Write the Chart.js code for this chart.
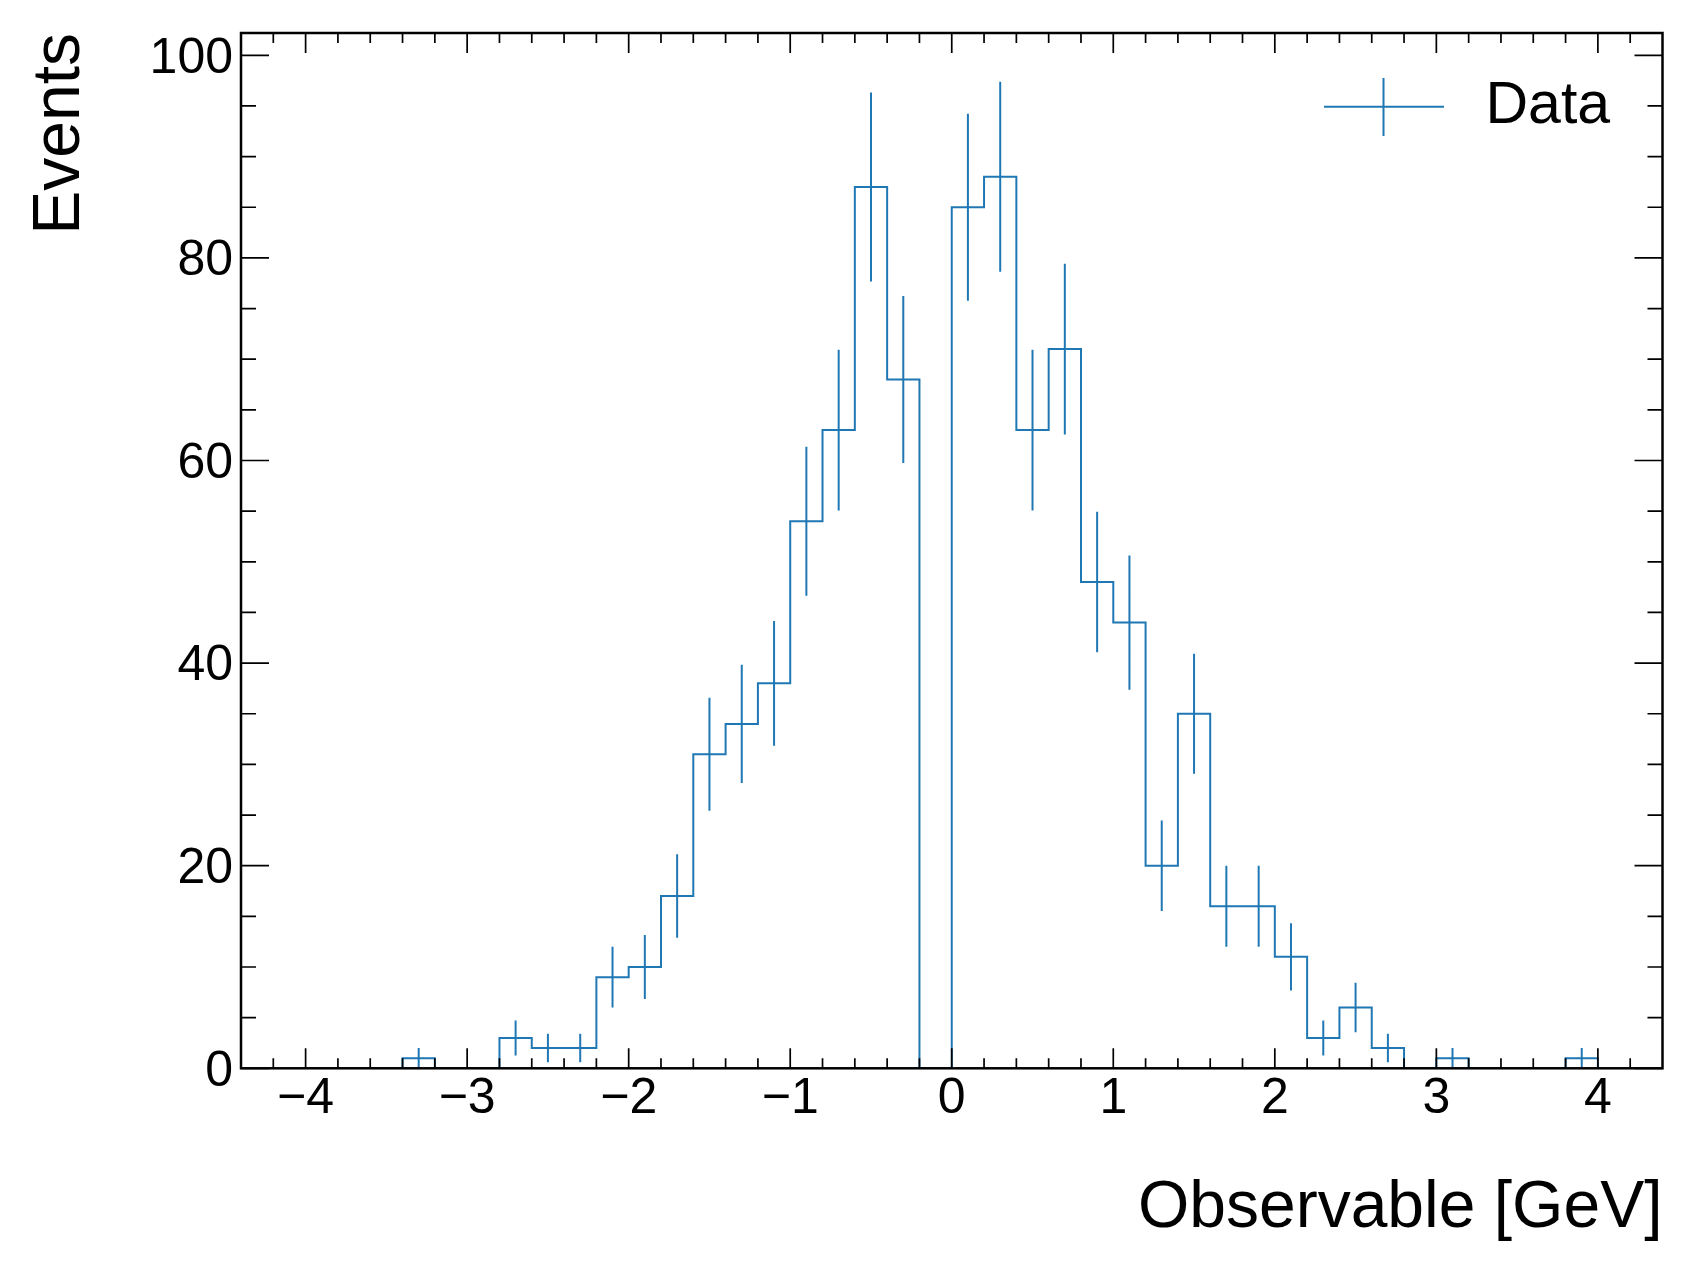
<!DOCTYPE html>
<html>
<head>
<meta charset="utf-8">
<script src="https://cdn.jsdelivr.net/npm/chart.js@4.4.1/dist/chart.umd.min.js"></script>
<style>
html,body{margin:0;padding:0;background:#fff;}
#wrap{width:1692px;height:1275px;position:relative;}
canvas{display:block;}
</style>
</head>
<body>
<div id="wrap"><canvas id="c" width="1692" height="1275"></canvas></div>
<script>
// ---- data ----
const binEdges = [-4.0,-3.8,-3.6,-3.4,-3.2,-3.0,-2.8,-2.6,-2.4,-2.2,-2.0,-1.8,-1.6,-1.4,-1.2,-1.0,-0.8,-0.6,-0.4,-0.2,0.0,0.2,0.4,0.6,0.8,1.0,1.2,1.4,1.6,1.8,2.0,2.2,2.4,2.6,2.8,3.0,3.2,3.4,3.6,3.8,4.0];
const counts = [0,0,0,1,0,0,3,2,2,9,10,17,31,34,38,54,63,87,68,0,85,88,63,71,48,44,20,35,16,16,11,3,6,2,0,1,0,0,0,1];
const errors = [0,0,0,1,0,0,1.73,1.41,1.41,3,3.16,4.12,5.57,5.83,6.16,7.35,7.94,9.33,8.25,0,9.22,9.38,7.94,8.43,6.93,6.63,4.47,5.92,4,4,3.32,1.73,2.45,1.41,0,1,0,0,0,1];
const xTickValues = [-4,-3,-2,-1,0,1,2,3,4];
const yTickValues = [0,20,40,60,80,100];
const xRange = [-4.4, 4.4];
const yRange = [0, 102.2];
const seriesLabel = 'Data';
const xTitle = 'Observable [GeV]';
const yTitle = 'Events';

// ---- style ----
const BLUE = '#1f77b4';
const FONT = "'Liberation Sans', Arial, Helvetica, sans-serif";

const histPoints = binEdges.map((e, i) => ({x: e, y: i < counts.length ? counts[i] : 0}));
const errPoints = [];
counts.forEach((c, i) => {
  if (errors[i] > 0) {
    const xc = (binEdges[i] + binEdges[i + 1]) / 2;
    errPoints.push({x: xc, y: c - errors[i]}, {x: xc, y: c + errors[i]}, {x: xc, y: null});
  }
});

// legend marker (errorbar handle)
const marker = document.createElement('canvas');
marker.width = 120; marker.height = 58;
(function(){
  const m = marker.getContext('2d');
  m.strokeStyle = BLUE; m.lineWidth = 2;
  m.beginPath();
  m.moveTo(0, 29); m.lineTo(120, 29);
  m.moveTo(60, 0); m.lineTo(60, 58);
  m.stroke();
})();

const legendPlace = {
  id: 'legendPlace',
  afterLayout(chart) {
    const lg = chart.legend;
    if (!lg) return;
    const w = lg.width, h = lg.height;
    lg.left = 1311; lg.right = lg.left + w;
    lg.top = 77.2; lg.bottom = lg.top + h;
  }
};

const frame = {
  id: 'frame',
  afterDatasetsDraw(chart) {
    const {ctx, chartArea: a, scales: {x, y}} = chart;
    ctx.save();
    ctx.strokeStyle = '#000';
    ctx.lineWidth = 1.7;
    ctx.beginPath();
    for (let k = -21; k <= 21; k++) {
      const v = k / 5;
      const px = x.getPixelForValue(v);
      const major = (k % 5 === 0);
      const L = major ? 20 : 10;
      ctx.moveTo(px, a.bottom); ctx.lineTo(px, a.bottom - L);
      ctx.moveTo(px, a.top); ctx.lineTo(px, a.top + L);
    }
    for (let v = 0; v <= 100; v += 5) {
      const py = y.getPixelForValue(v);
      const major = (v % 20 === 0);
      const L = major ? 28 : 15;
      ctx.moveTo(a.left, py); ctx.lineTo(a.left + L, py);
      ctx.moveTo(a.right, py); ctx.lineTo(a.right - L, py);
    }
    ctx.stroke();
    ctx.lineWidth = 2.5;
    ctx.strokeRect(a.left, a.top, a.right - a.left, a.bottom - a.top);
    ctx.restore();
  }
};

new Chart(document.getElementById('c'), {
  type: 'line',
  data: {
    datasets: [
      {label: seriesLabel, data: histPoints, stepped: true, borderColor: BLUE, borderWidth: 2, pointRadius: 0, fill: false, tension: 0},
      {label: seriesLabel + ' errors', data: errPoints, borderColor: BLUE, borderWidth: 2, pointRadius: 0, fill: false, spanGaps: false, tension: 0}
    ]
  },
  options: {
    responsive: false,
    animation: false,
    devicePixelRatio: 1,
    events: [],
    layout: {padding: {left: 0, top: 29, right: 29.5, bottom: 0}},
    plugins: {
      tooltip: {enabled: false},
      legend: {
        display: true,
        position: 'chartArea',
        align: 'start',
        labels: {
          usePointStyle: true,
          pointStyleWidth: 145,
          padding: 0,
          color: '#000',
          font: {family: FONT, size: 59, lineHeight: 1},
          generateLabels: () => [{text: seriesLabel, pointStyle: marker, fillStyle: 'rgba(0,0,0,0)', strokeStyle: BLUE, lineWidth: 0, hidden: false, datasetIndex: 0}]
        }
      }
    },
    scales: {
      x: {
        type: 'linear',
        min: xRange[0], max: xRange[1],
        grid: {display: false, drawTicks: false},
        border: {display: false},
        afterBuildTicks: s => { s.ticks = xTickValues.map(v => ({value: v})); },
        ticks: {
          autoSkip: false, maxRotation: 0, minRotation: 0, padding: 6, color: '#000',
          font: {family: FONT, size: 50, lineHeight: 1},
          callback: v => String(v).replace('-', '\u2212')
        },
        title: {display: true, text: xTitle, align: 'end', color: '#000', font: {family: FONT, size: 66, lineHeight: 1}, padding: {top: 0, bottom: 33}},
        afterFit: s => { s.height = 206.7; }
      },
      y: {
        type: 'linear',
        min: yRange[0], max: yRange[1],
        grid: {display: false, drawTicks: false},
        border: {display: false},
        afterBuildTicks: s => { s.ticks = yTickValues.map(v => ({value: v})); },
        ticks: {
          autoSkip: false, padding: 8, labelOffset: 3.5, color: '#000',
          font: {family: FONT, size: 50, lineHeight: 1},
          callback: v => String(v)
        },
        title: {display: true, text: yTitle, align: 'end', color: '#000', font: {family: FONT, size: 66, lineHeight: 1}, padding: {top: 27.4, bottom: 0}},
        afterFit: s => { s.width = 241; }
      }
    }
  },
  plugins: [legendPlace, frame]
});
</script>
</body>
</html>
